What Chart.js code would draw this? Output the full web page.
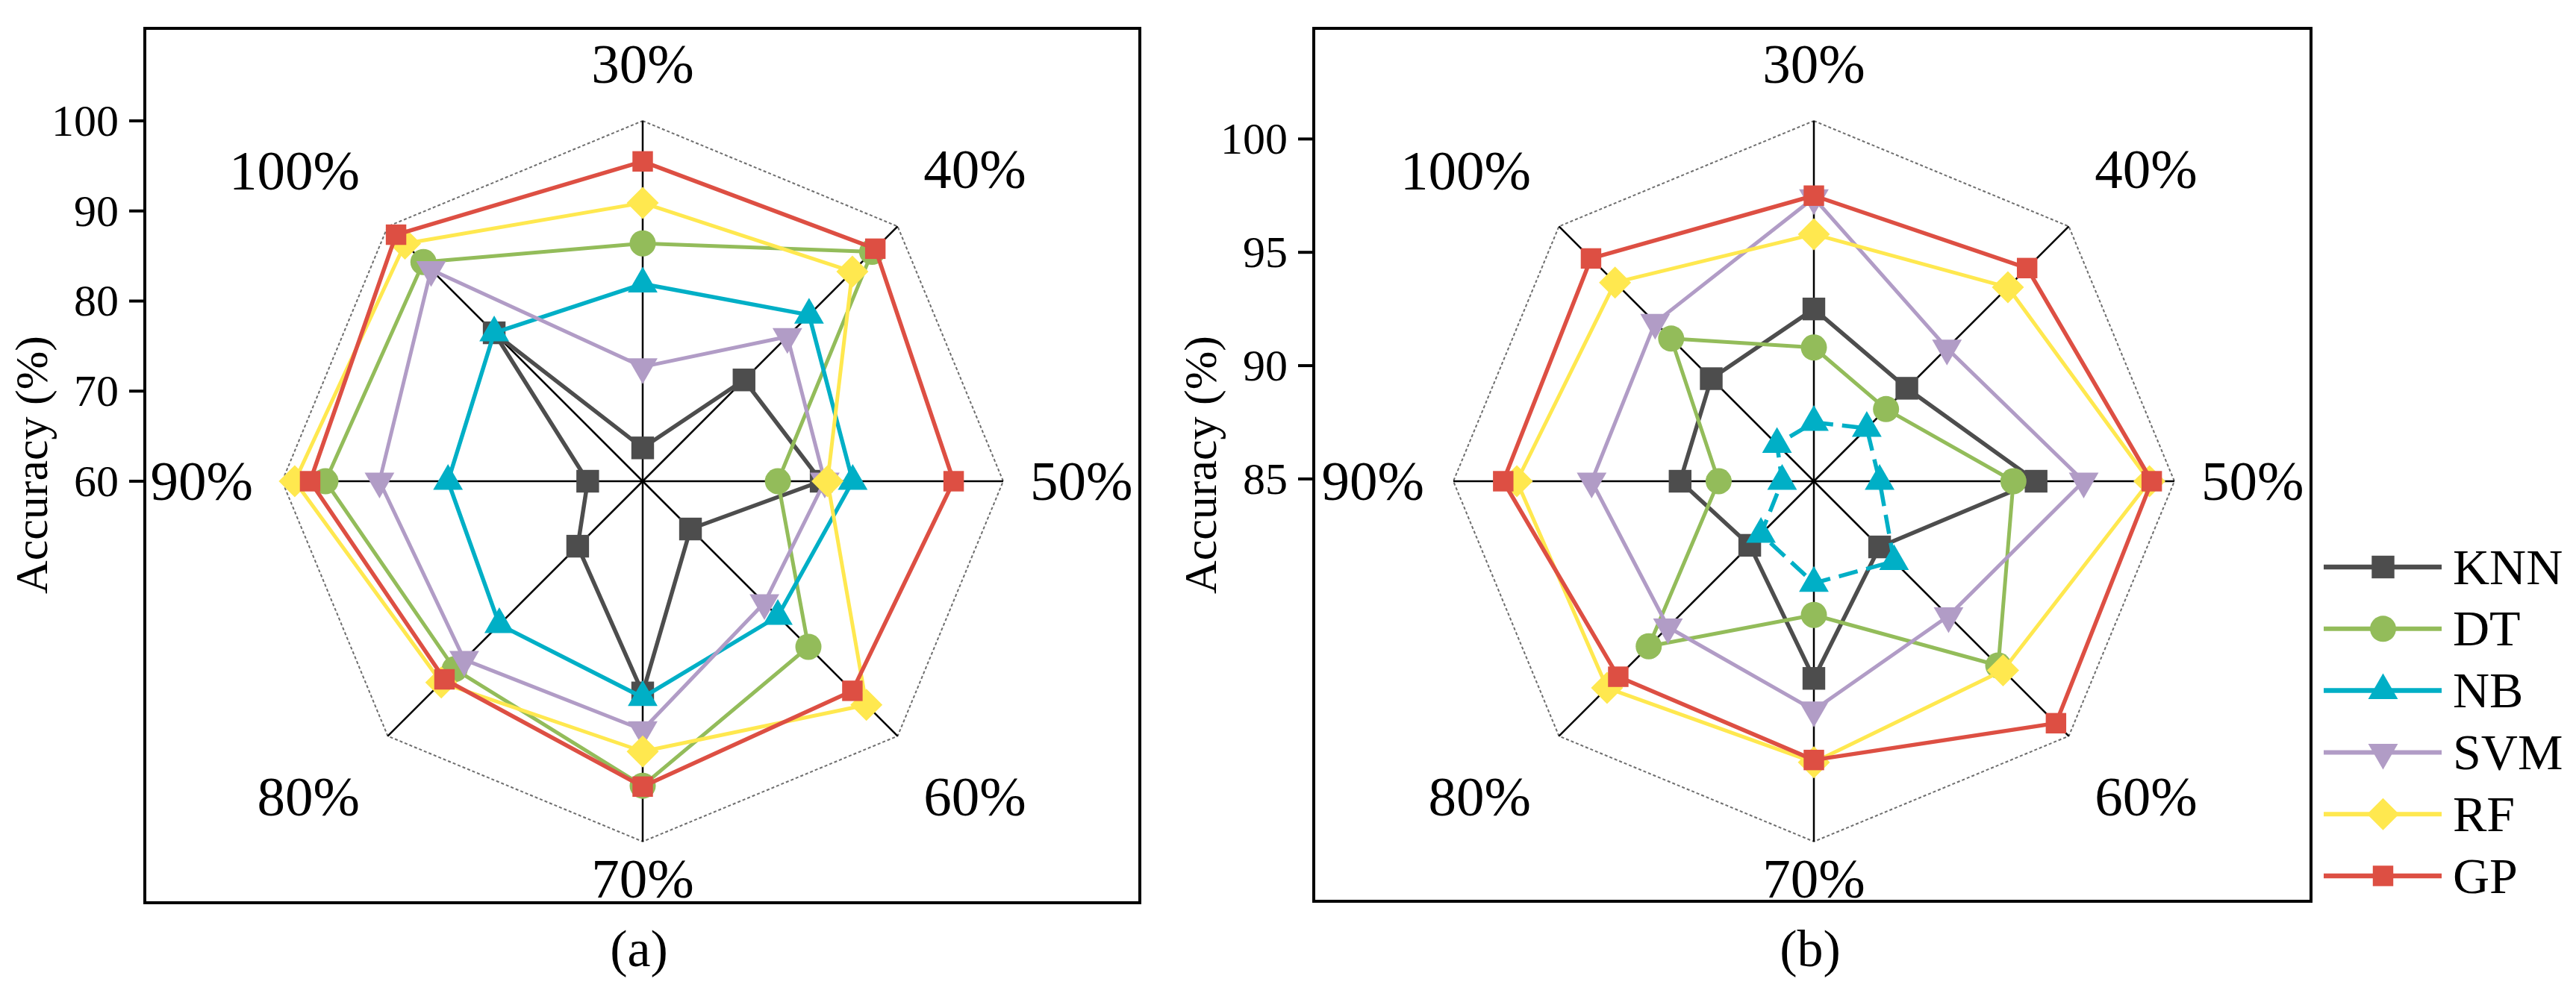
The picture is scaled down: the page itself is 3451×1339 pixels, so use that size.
<!DOCTYPE html>
<html>
<head>
<meta charset="utf-8">
<script src="https://cdn.jsdelivr.net/npm/chart.js@4.4.1/dist/chart.umd.min.js"></script>
<style>
  html, body { margin: 0; padding: 0; background: #ffffff; }
  body { width: 3451px; height: 1339px; position: relative; overflow: hidden; }
  canvas { position: absolute; top: 0; }
  #ca { left: 0px; }
  #cb { left: 1560px; }
</style>
</head>
<body>
<canvas id="ca" width="1560" height="1339"></canvas>
<canvas id="cb" width="1891" height="1339"></canvas>
<script>
// ---------------- data ----------------
const categories = ['30%', '40%', '50%', '60%', '70%', '80%', '90%', '100%'];
const seriesNames = ['KNN', 'DT', 'NB', 'SVM', 'RF', 'GP'];

// panel (a)
const knnA = [63.7, 75.9, 79.8, 67.5, 83.5, 70.2, 66.1, 83.3];
const dtA  = [86.4, 96.0, 75.0, 86.0, 93.8, 89.5, 95.2, 94.4];
const nbA  = [81.9, 86.1, 83.3, 81.2, 84.0, 82.5, 81.6, 83.3];
const svmA = [72.7, 82.7, 80.2, 79.1, 87.6, 88.0, 89.2, 93.2];
const rfA  = [90.9, 92.9, 80.5, 95.1, 90.0, 91.6, 98.6, 97.3];
const gpA  = [95.5, 96.5, 94.5, 92.9, 93.9, 91.1, 96.9, 98.7];

// panel (b)
const knnB = [92.5, 90.7, 94.7, 89.0, 93.6, 88.9, 90.8, 91.3];
const dtB  = [90.8, 89.4, 93.7, 96.4, 90.8, 95.2, 89.1, 93.8];
const nbB  = [87.5, 88.2, 87.8, 89.9, 89.4, 88.2, 86.3, 87.2];
const svmB = [97.4, 93.2, 96.8, 93.3, 95.0, 94.0, 94.7, 94.8];
const rfB  = [95.8, 97.0, 99.7, 96.7, 97.3, 97.8, 98.0, 97.3];
const gpB  = [97.5, 98.2, 99.8, 100.0, 97.2, 97.1, 98.6, 98.8];

// axis
const ticksA = [60, 70, 80, 90, 100];
const ticksB = [85, 90, 95, 100];
const rangeA = [60, 100];
const rangeB = [84.9, 100.8];
const axisTitle = 'Accuracy (%)';
const captions = ['(a)', '(b)'];

// ---------------- styles ----------------
const FONT = '"Liberation Serif", "Times New Roman", serif';
const styles = [
  { color: '#4d4d4d', pointStyle: 'rect',     radius: 21.5, rotation: 0,   width: 5.5 },
  { color: '#93bc5a', pointStyle: 'circle',   radius: 17.5, rotation: 0,   width: 5 },
  { color: '#00afc6', pointStyle: 'triangle', radius: 23,   rotation: 0,   width: 5.5 },
  { color: '#b19cc6', pointStyle: 'triangle', radius: 23,   rotation: 180, width: 5 },
  { color: '#ffe84f', pointStyle: 'rectRot',  radius: 21.5, rotation: 0,   width: 5 },
  { color: '#dd4f43', pointStyle: 'rect',     radius: 19.4, rotation: 0,   width: 5.5 }
];
// label offsets [x, y] beyond the outer ring, per category
const labelPads = [[0, 51], [49, 73], [36, 0], [49, 81], [0, 25], [53, 81], [39, 0], [53, 70.5]];

function makeDatasets(seriesData, dashedIndex) {
  return seriesData.map((d, i) => ({
    label: seriesNames[i],
    data: d,
    order: seriesData.length - i,
    borderColor: styles[i].color,
    backgroundColor: styles[i].color,
    borderWidth: styles[i].width,
    borderDash: dashedIndex === i ? [26, 12] : [],
    borderJoinStyle: 'round',
    pointStyle: styles[i].pointStyle,
    pointRadius: styles[i].radius,
    pointHoverRadius: styles[i].radius,
    pointRotation: styles[i].rotation,
    pointBackgroundColor: styles[i].color,
    pointBorderColor: styles[i].color,
    pointBorderWidth: 0,
    fill: false,
    tension: 0
  }));
}

const decor = {
  id: 'decor',
  afterDraw(chart, args, o) {
    const ctx = chart.ctx;
    const scale = chart.scales.r;
    ctx.save();
    // frame
    ctx.strokeStyle = '#000';
    ctx.lineWidth = 4;
    ctx.setLineDash([]);
    ctx.strokeRect(o.box[0], o.box[1], o.box[2], o.box[3]);
    // left axis ticks
    const bx = o.box[0];
    ctx.fillStyle = '#000';
    ctx.font = '60px ' + FONT;
    ctx.textAlign = 'right';
    ctx.textBaseline = 'alphabetic';
    o.ticks.forEach(v => {
      const y = scale.yCenter - scale.getDistanceFromCenterForValue(v);
      ctx.beginPath();
      ctx.moveTo(bx - 21, y);
      ctx.lineTo(bx, y);
      ctx.lineWidth = 4;
      ctx.stroke();
      ctx.fillText(String(v), bx - 35, y + 0.662 * 60 / 2);
    });
    // axis title
    ctx.save();
    ctx.translate(bx - 147, 623);
    ctx.rotate(-Math.PI / 2);
    ctx.font = '62px ' + FONT;
    ctx.textAlign = 'center';
    ctx.textBaseline = 'middle';
    ctx.fillText(axisTitle, 0, 0);
    ctx.restore();
    // point labels
    const fs = 75, cap = 0.662 * fs;
    ctx.font = fs + 'px ' + FONT;
    categories.forEach((lab, i) => {
      const ang = scale.getIndexAngle(i) - Math.PI / 2;
      const c = Math.cos(ang), s = Math.sin(ang);
      const x = scale.xCenter + c * (scale.drawingArea + labelPads[i][0]);
      const y = scale.yCenter + s * (scale.drawingArea + labelPads[i][1]);
      ctx.textAlign = Math.abs(c) < 1e-3 ? 'center' : (c > 0 ? 'left' : 'right');
      const base = Math.abs(s) < 1e-3 ? y + cap / 2 : (s < 0 ? y : y + cap);
      ctx.fillText(lab, x, base);
    });
    // caption
    ctx.font = '70px ' + FONT;
    ctx.textAlign = 'center';
    ctx.fillText(o.caption, scale.xCenter - 5, 1295);
    // legend
    if (o.legend) {
      const lx0 = o.legend.x, lx1 = o.legend.x + 158, mx = o.legend.x + 79.5, tx = o.legend.x + 173;
      ctx.font = '68px ' + FONT;
      ctx.textAlign = 'left';
      chart.data.datasets.forEach((ds, i) => {
        const y = o.legend.y + i * 82.8;
        ctx.beginPath();
        ctx.strokeStyle = styles[i].color;
        ctx.lineWidth = styles[i].width + 1;
        ctx.setLineDash([]);
        ctx.moveTo(lx0, y);
        ctx.lineTo(lx1, y);
        ctx.stroke();
        ctx.fillStyle = styles[i].color;
        Chart.helpers.drawPoint(ctx, {
          pointStyle: styles[i].pointStyle,
          radius: styles[i].radius,
          rotation: styles[i].rotation,
          borderWidth: 0
        }, mx, y);
        ctx.fillStyle = '#000';
        ctx.fillText(ds.label, tx, y + 0.662 * 68 / 2);
      });
    }
    ctx.restore();
  }
};

function radarScale(range, step) {
  return {
    r: {
      min: range[0],
      max: range[1],
      startAngle: 0,
      ticks: { display: false, stepSize: step },
      pointLabels: { display: false },
      angleLines: { display: true, color: '#000000', lineWidth: 2.5 },
      grid: {
        lineWidth: 2,
        color: (c) => (c.tick && Math.abs(c.tick.value - range[1]) < 1e-6) ? '#6e6e6e' : 'rgba(0,0,0,0)'
      },
      border: { dash: [4, 3] }
    }
  };
}

new Chart(document.getElementById('ca'), {
  type: 'radar',
  data: { labels: categories, datasets: makeDatasets([knnA, dtA, nbA, svmA, rfA, gpA], -1) },
  options: {
    responsive: false,
    animation: false,
    layout: { padding: { left: 378, right: 216, top: 162, bottom: 211 } },
    scales: radarScale(rangeA, 10),
    plugins: {
      legend: { display: false },
      tooltip: { enabled: false },
      decor: { box: [194, 38, 1333, 1172], ticks: ticksA, caption: captions[0] }
    }
  },
  plugins: [decor]
});

new Chart(document.getElementById('cb'), {
  type: 'radar',
  data: { labels: categories, datasets: makeDatasets([knnB, dtB, nbB, svmB, rfB, gpB], 2) },
  options: {
    responsive: false,
    animation: false,
    layout: { padding: { left: 387, right: 538, top: 162, bottom: 211 } },
    scales: radarScale(rangeB, 5),
    plugins: {
      legend: { display: false },
      tooltip: { enabled: false },
      decor: { box: [200, 38, 1336, 1170], ticks: ticksB, caption: captions[1], legend: { x: 1553, y: 760 } }
    }
  },
  plugins: [decor]
});
</script>
</body>
</html>
